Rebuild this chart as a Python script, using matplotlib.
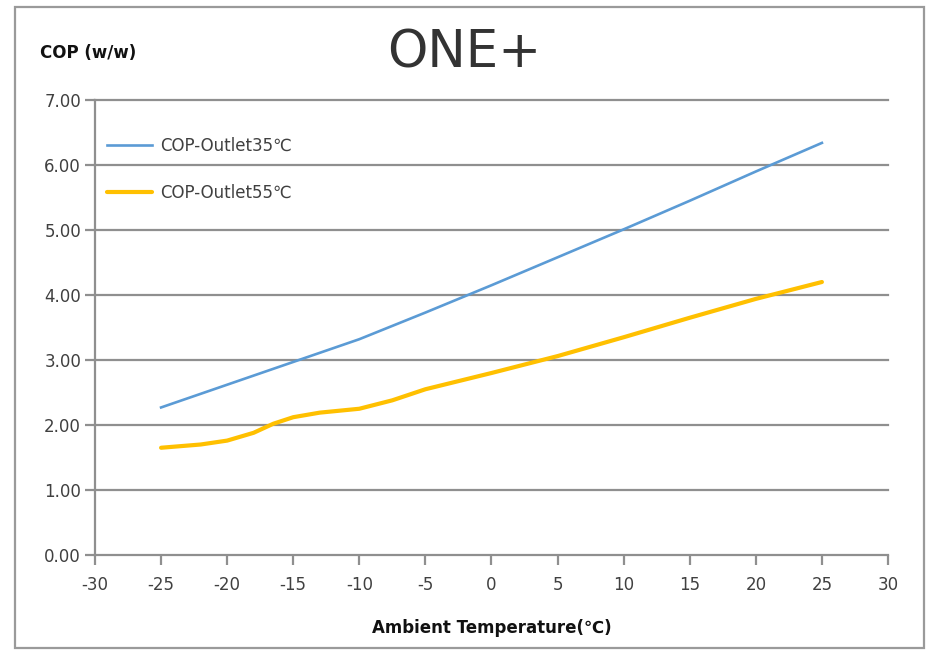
import matplotlib.pyplot as plt
from matplotlib.patches import Rectangle

# ambient temperature (C)
temp_35 = [-25, -20, -15, -10, -5, 0, 5, 10, 15, 20, 25]
cop_35 = [2.27, 2.62, 2.97, 3.32, 3.73, 4.15, 4.58, 5.01, 5.45, 5.90, 6.34]

temp_55 = [-25, -22, -20, -18, -16.5, -15, -13, -10, -7.5, -5, 0, 5, 10, 15, 20, 25]
cop_55 = [1.65, 1.70, 1.76, 1.88, 2.02, 2.12, 2.19, 2.25, 2.38, 2.55, 2.80, 3.06, 3.35, 3.65, 3.94, 4.20]

x_ticks = list(range(-30, 31, 5))
y_ticks = [0, 1, 2, 3, 4, 5, 6, 7]

grey = '#8f8f8f'
text_col = '#404040'

fig = plt.figure(figsize=(9.29, 6.51), dpi=100)
ax = fig.add_axes([95 / 929, 1 - 555 / 651, 793 / 929, 455 / 651])

# outer frame
fig.patches.append(Rectangle((15 / 929, 1 - 648 / 651), 909 / 929, 641 / 651,
                             transform=fig.transFigure, fill=False,
                             edgecolor='#9a9a9a', lw=1.6))

for y in y_ticks[1:]:
    ax.axhline(y, color=grey, lw=1.6, zorder=1, clip_on=False)

ax.plot(temp_35, cop_35, color='#5B9BD5', lw=1.9, label='COP-Outlet35℃', zorder=3)
ax.plot(temp_55, cop_55, color='#FFC000', lw=3.0, label='COP-Outlet55℃', zorder=3,
        solid_capstyle='round', solid_joinstyle='round')

ax.set_xlim(-30, 30)
ax.set_ylim(0, 7)
ax.set_xticks(x_ticks)
ax.set_xticklabels([str(t) for t in x_ticks])
ax.set_yticks(y_ticks)
ax.set_yticklabels(['%.2f' % v for v in y_ticks])

for s in ['top', 'right']:
    ax.spines[s].set_visible(False)
for s in ['left', 'bottom']:
    ax.spines[s].set_color(grey)
    ax.spines[s].set_linewidth(1.6)
ax.tick_params(axis='both', colors=grey, width=1.6, length=7, labelsize=12,
               labelcolor=text_col)
ax.tick_params(axis='x', pad=8)
ax.tick_params(axis='y', pad=3)

ax.set_xlabel('Ambient Temperature(℃)', fontsize=12, fontweight='bold',
              color='#111111', labelpad=18)

fig.text(40 / 929, 1 - 53 / 651, 'COP (w/w)', fontsize=12, fontweight='bold',
         color='#111111', va='center', ha='left')
fig.text(464 / 929, 1 - 53 / 651, 'ONE+', fontsize=37, color='#333333',
         va='center', ha='center', fontweight='medium')

leg = ax.legend(loc='upper left', bbox_to_anchor=(0.0, 0.945), frameon=False,
                fontsize=12, handlelength=2.7, handletextpad=0.5,
                labelspacing=1.75, borderaxespad=0.3)
for t in leg.get_texts():
    t.set_color(text_col)

fig.savefig('out.png', dpi=100)
